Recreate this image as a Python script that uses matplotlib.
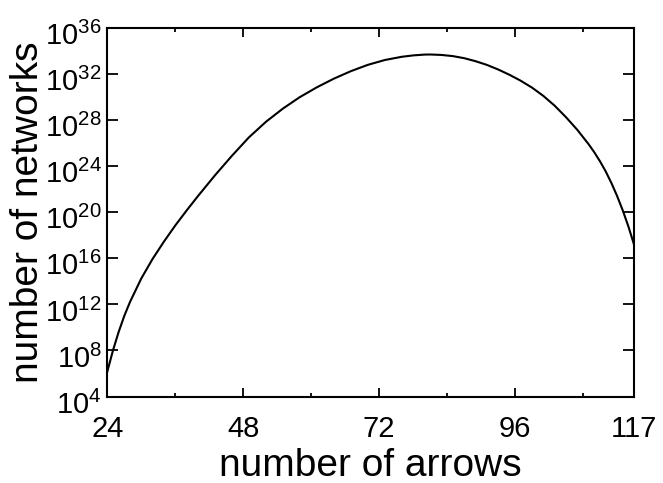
import matplotlib
matplotlib.use("Agg")
import matplotlib.pyplot as plt
from matplotlib.ticker import FixedLocator, FuncFormatter
from matplotlib.transforms import ScaledTranslation
import numpy as np

plt.rcParams['font.family'] = ['Liberation Sans', 'DejaVu Sans']
plt.rcParams['mathtext.fontset'] = 'custom'
plt.rcParams['mathtext.rm'] = 'Liberation Sans'
plt.rcParams['mathtext.it'] = 'Liberation Sans'

# data (number of arrows, log10 of number of networks)
arrows = [24, 25, 26, 27, 28, 30, 32, 34, 36, 38, 40, 43, 46, 49, 52, 55, 58,
          61, 64, 67, 70, 73, 76, 78, 80, 81, 83, 85, 87, 89, 91, 93, 95, 97,
          99, 101, 103, 105, 107, 109, 110, 111, 112, 113, 114, 115, 116, 117]
log10_networks = [6.16, 8.0, 9.6, 11.0, 12.2, 14.25, 15.95, 17.45, 18.85, 20.15,
                  21.4, 23.2, 24.9, 26.5, 27.85, 29.0, 30.0, 30.85, 31.6, 32.25,
                  32.8, 33.22, 33.5, 33.62, 33.69, 33.7, 33.66, 33.56, 33.38,
                  33.12, 32.8, 32.4, 31.94, 31.42, 30.82, 30.1, 29.25, 28.25,
                  27.15, 25.9, 25.2, 24.42, 23.55, 22.55, 21.43, 20.18, 18.78, 17.2]
x_ticks = [24, 48, 72, 96, 117]
x_minor = [36, 60, 84, 108]
y_exponents = [4, 8, 12, 16, 20, 24, 28, 32, 36]

networks = [10.0 ** v for v in log10_networks]

W, H = 663, 483
fig = plt.figure(figsize=(W / 100, H / 100), dpi=100)
L, R, T, B = 107.3, 634.0, 28.0, 396.5
ax = fig.add_axes([L / W, 1 - B / H, (R - L) / W, (B - T) / H])
ax.plot(arrows, networks, color='black', lw=1.5)
ax.set_yscale('log')
ax.set_xlim(24, 117)
ax.set_ylim(10.0 ** 4, 10.0 ** 36)

ax.xaxis.set_major_locator(FixedLocator(x_ticks))
ax.xaxis.set_minor_locator(FixedLocator(x_minor))
ax.set_xticklabels([str(t) for t in x_ticks])
ax.yaxis.set_major_locator(FixedLocator([10.0 ** e for e in y_exponents]))
ax.yaxis.set_minor_locator(FixedLocator([]))
ax.yaxis.set_major_formatter(FuncFormatter(
    lambda v, p: r'$\mathregular{10^{%d}}$' % int(round(np.log10(v)))))

ax.tick_params(which='both', direction='in', top=True, right=True, labelsize=21)
ax.tick_params(axis='x', which='major', length=6.5, width=1.3, pad=13)
ax.tick_params(axis='y', which='major', length=7.7, width=1.3, pad=4)
ax.tick_params(which='minor', length=3, width=1.3)
for s in ax.spines.values():
    s.set_linewidth(1.5)

off = ScaledTranslation(0, -4 / 72, fig.dpi_scale_trans)
for lab in ax.get_yticklabels():
    lab.set_transform(lab.get_transform() + off)

ax.set_xlabel('number of arrows', fontsize=28)
ax.xaxis.label.set_va('baseline')
ax.xaxis.set_label_coords(0.5, (H - 476 - (H - B)) / (B - T))
ax.set_ylabel('number of networks', fontsize=28)
ax.yaxis.set_label_coords((45.5 - L) / (R - L), 0.5)

fig.savefig('out.png', dpi=100)
